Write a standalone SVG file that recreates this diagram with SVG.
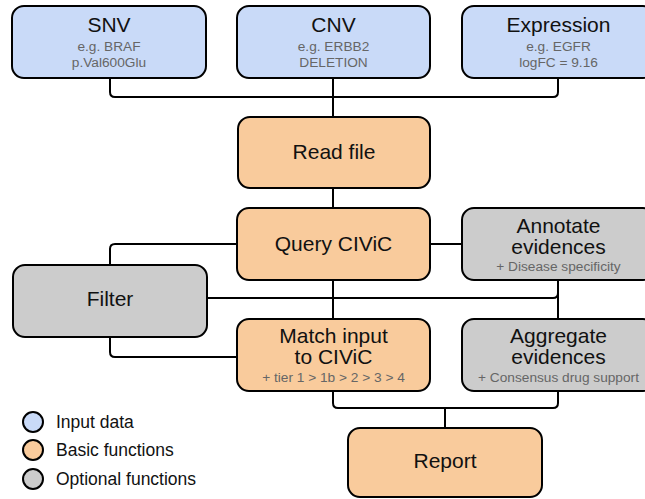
<svg xmlns="http://www.w3.org/2000/svg" width="645" height="499" viewBox="0 0 645 499">
<style>
.box{stroke:#000;stroke-width:2}
.in{fill:#c9daf8}
.basic{fill:#f9cb9c}
.opt{fill:#cccccc}
.t{font-family:"Liberation Sans",Arial,sans-serif;font-size:21px;fill:#111;text-anchor:middle}
.s{font-family:"Liberation Sans",Arial,sans-serif;font-size:13.7px;fill:#666;text-anchor:middle}
.l{font-family:"Liberation Sans",Arial,sans-serif;font-size:17.5px;fill:#111}
.c{fill:none;stroke:#000;stroke-width:2}
</style>
<rect width="645" height="499" fill="#fff"/>
<g id="connectors">
<path class="c" d="M110,78 V92 Q110,97 115,97 H553 Q558,97 558,92 V78"/>
<path class="c" d="M333,78 V117"/>
<path class="c" d="M333,188 V208"/>
<path class="c" d="M237,244 H115 Q110,244 110,249 V265"/>
<path class="c" d="M430,244 H462"/>
<path class="c" d="M207,298 H553 Q558,298 558,293 V280"/>
<path class="c" d="M558,280 V319"/>
<path class="c" d="M333,280 V319"/>
<path class="c" d="M110,337 V352 Q110,357 115,357 H237"/>
<path class="c" d="M333,391 V403 Q333,408 338,408 H553 Q558,408 558,403 V391"/>
<path class="c" d="M445,408 V428"/>
</g>
<g id="snv">
<rect class="box in" x="12" y="6" width="194" height="72" rx="12"/>
<text class="t" x="109" y="32">SNV</text>
<text class="s" x="109" y="51">e.g. BRAF</text>
<text class="s" x="109" y="67">p.Val600Glu</text>
</g>
<g id="cnv">
<rect class="box in" x="237" y="6" width="193" height="72" rx="12"/>
<text class="t" x="333.5" y="32">CNV</text>
<text class="s" x="333.5" y="51">e.g. ERBB2</text>
<text class="s" x="333.5" y="67">DELETION</text>
</g>
<g id="expression">
<rect class="box in" x="462" y="6" width="193" height="72" rx="12"/>
<text class="t" x="558.5" y="32">Expression</text>
<text class="s" x="558.5" y="51">e.g. EGFR</text>
<text class="s" x="558.5" y="67">logFC = 9.16</text>
</g>
<g id="readfile">
<rect class="box basic" x="238" y="117" width="192" height="71" rx="12"/>
<text class="t" x="334" y="159">Read file</text>
</g>
<g id="query">
<rect class="box basic" x="237" y="208" width="193" height="72" rx="12"/>
<text class="t" x="333.5" y="251">Query CIViC</text>
</g>
<g id="annotate">
<rect class="box opt" x="462" y="208" width="193" height="72" rx="12"/>
<text class="t" x="558.5" y="233">Annotate</text>
<text class="t" x="558.5" y="254">evidences</text>
<text class="s" x="558.5" y="271">+ Disease specificity</text>
</g>
<g id="filter">
<rect class="box opt" x="13" y="265" width="194" height="72" rx="12"/>
<text class="t" x="110" y="306">Filter</text>
</g>
<g id="match">
<rect class="box basic" x="237" y="319" width="193" height="72" rx="12"/>
<text class="t" x="333.5" y="343">Match input</text>
<text class="t" x="333.5" y="364">to CIViC</text>
<text class="s" x="333.5" y="382">+ tier 1 &gt; 1b &gt; 2 &gt; 3 &gt; 4</text>
</g>
<g id="aggregate">
<rect class="box opt" x="462" y="319" width="193" height="72" rx="12"/>
<text class="t" x="558.5" y="343">Aggregate</text>
<text class="t" x="558.5" y="364">evidences</text>
<text class="s" x="558.5" y="382">+ Consensus drug support</text>
</g>
<g id="report">
<rect class="box basic" x="348" y="428" width="194" height="69" rx="12"/>
<text class="t" x="445" y="468">Report</text>
</g>
<g id="legend">
<circle class="box in" cx="33" cy="422" r="10"/>
<text class="l" x="56" y="428">Input data</text>
<circle class="box basic" cx="33" cy="450" r="10"/>
<text class="l" x="56" y="456">Basic functions</text>
<circle class="box opt" cx="33" cy="479" r="10"/>
<text class="l" x="56" y="485">Optional functions</text>
</g>
</svg>
